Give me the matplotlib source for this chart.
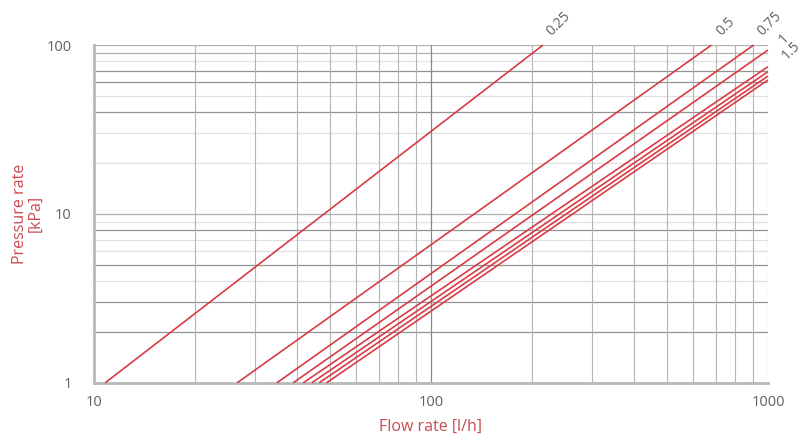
import numpy as np
import matplotlib
matplotlib.use('Agg')
import matplotlib.pyplot as plt

# ---------------------------------------------------------------------- #
# Data (flow l/h -> pressure kPa, straight in log-log)
# ---------------------------------------------------------------------- #
# each curve: (flow at start, pressure at start, flow at end, pressure at end)
CURVE_START_Q = [10.8, 26.6, 34.9, 39.0, 41.8, 44.3, 46.6, 49.0]
CURVE_START_P = [1, 1, 1, 1, 1, 1, 1, 1]
CURVE_END_Q = [215, 680, 907, 1000, 1000, 1000, 1000, 1000]
CURVE_END_P = [100, 100, 100, 93.4, 74.4, 69.5, 65.5, 62.1]

# setting labels at the top right
LABELS = ['0.25', '0.5', '0.75', '1', '1.5']

X_TICKS = [10, 100, 1000]
Y_TICKS = [1, 10, 100]

# horizontal grid levels (the reference uses uneven shading)
Y_GRID_DARK = [2, 3, 5, 8, 40, 60, 70]
Y_GRID_MID = [10, 90, 100]
Y_GRID_LIGHT = [4, 6, 7, 9, 20, 30, 50, 80]
X_GRID = [20, 30, 40, 50, 60, 70, 80, 90, 200, 300, 400, 500, 600, 700,
          800, 900, 1000]
X_GRID_DARK = [100]

RED = '#d93a44'
LABEL_RED = '#c94b52'
TEXT = '#606060'

plt.rcParams['font.family'] = ['Open Sans', 'DejaVu Sans']

fig = plt.figure(figsize=(8.03, 4.34), dpi=100)
ax = fig.add_axes([0.117, 0.118, 0.8394, 0.7783])
ax.set_xscale('log')
ax.set_yscale('log')
ax.set_xlim(10, 1000)
ax.set_ylim(1, 100)

# grid
for y in Y_GRID_DARK:
    ax.axhline(y, color='#939393', lw=0.9, zorder=1)
for y in Y_GRID_MID:
    ax.axhline(y, color='#b0b0b0', lw=0.9, zorder=1)
for y in Y_GRID_LIGHT:
    ax.axhline(y, color='#e0e0e0', lw=0.9, zorder=1)
for x in X_GRID:
    ax.axvline(x, color='#b4b4b4', lw=0.8, zorder=1)
for x in X_GRID_DARK:
    ax.axvline(x, color='#888888', lw=0.9, zorder=1)

# curves
for q0, p0, q1, p1 in zip(CURVE_START_Q, CURVE_START_P, CURVE_END_Q, CURVE_END_P):
    ax.plot([q0, q1], [p0, p1], color=RED, lw=1.2, zorder=3,
            solid_capstyle='butt', clip_on=False)

# spines
for side in ['top', 'right']:
    ax.spines[side].set_visible(False)
for side in ['left', 'bottom']:
    ax.spines[side].set_color('#b8b8b8')
    ax.spines[side].set_linewidth(2.0)

ax.minorticks_off()
ax.set_xticks(X_TICKS)
ax.set_xticklabels([str(v) for v in X_TICKS])
ax.set_yticks(Y_TICKS)
ax.set_yticklabels([str(v) for v in Y_TICKS])
ax.tick_params(length=0, labelsize=10.5, colors=TEXT)
ax.tick_params(axis='x', pad=9)
ax.tick_params(axis='y', pad=16)

ax.set_xlabel('Flow rate [l/h]', color=LABEL_RED, fontsize=11.5, labelpad=6)
ax.set_ylabel('Pressure rate\n[kPa]', color=LABEL_RED, fontsize=11.5,
              labelpad=2, linespacing=1.0, multialignment='center')

# setting labels, rotated, in figure pixel coordinates
label_pos = [(558, 24), (726, 27), (770, 24), (784, 39), (791, 51)]
for lab, (px, py) in zip(LABELS, label_pos):
    fig.text(px / 803, 1 - py / 434, lab, rotation=45, ha='center',
             va='center', fontsize=10, color=TEXT)

fig.savefig('out.png', dpi=100)
